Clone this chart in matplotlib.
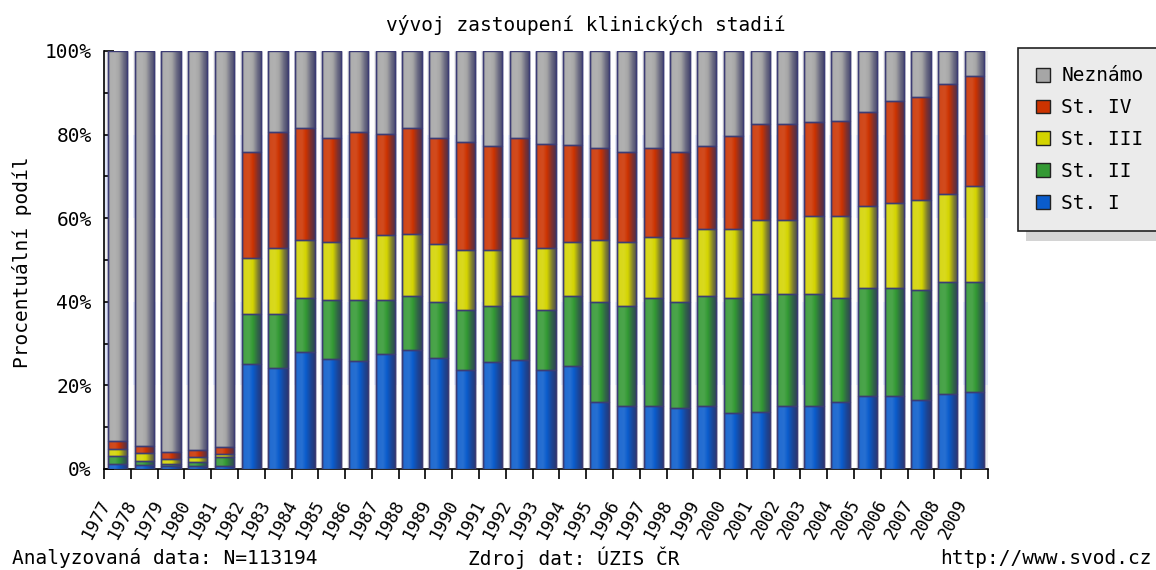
import numpy as np
import matplotlib
matplotlib.use("Agg")
import matplotlib.pyplot as plt
from matplotlib.colors import LinearSegmentedColormap, to_rgb
from matplotlib.patches import Rectangle, Patch
from matplotlib.transforms import ScaledTranslation

plt.rcParams['font.family'] = ['DejaVu Sans Mono']

years = [str(y) for y in range(1977, 2010)]

st1 = [1.2, 1.0, 0.7, 0.7, 0.7, 25.2, 24.2, 28.0, 26.2, 25.8, 27.5, 28.4, 26.6, 23.8, 25.6, 26.0, 23.8,
       24.6, 16.1, 15.1, 15.1, 14.7, 15.1, 13.3, 13.7, 15.1, 15.1, 16.1, 17.5, 17.5, 16.5, 18.0, 18.5]
st2 = [1.9, 0.8, 0.6, 0.9, 2.1, 11.9, 12.9, 13.0, 14.3, 14.7, 13.0, 13.0, 13.3, 14.3, 13.4, 15.4, 14.3,
       16.7, 23.8, 23.9, 25.8, 25.2, 26.3, 27.7, 28.2, 26.8, 26.8, 24.9, 25.8, 25.8, 26.4, 26.7, 26.2]
st3 = [1.8, 2.1, 1.2, 1.3, 0.8, 13.3, 15.7, 13.8, 13.7, 14.7, 15.6, 14.8, 13.9, 14.3, 13.4, 13.8, 14.7,
       12.9, 14.9, 15.2, 14.7, 15.3, 16.1, 16.5, 17.6, 17.6, 18.6, 19.5, 19.6, 20.4, 21.4, 21.0, 23.0]
st4 = [1.8, 1.6, 1.6, 1.6, 1.7, 25.4, 27.8, 26.7, 25.0, 25.4, 24.1, 25.3, 25.3, 25.8, 24.8, 23.9, 25.0,
       23.4, 22.0, 21.6, 21.2, 20.6, 19.7, 22.1, 23.0, 23.0, 22.4, 22.8, 22.4, 24.4, 24.7, 26.4, 26.3]
neznamo = [93.3, 94.5, 95.9, 95.5, 94.7, 24.2, 19.4, 18.5, 20.8, 19.4, 19.8, 18.5, 20.9, 21.8, 22.8, 20.9, 22.2,
           22.4, 23.2, 24.2, 23.2, 24.2, 22.8, 20.4, 17.5, 17.5, 17.1, 16.7, 14.7, 11.9, 11.0, 7.9, 6.0]

series_names = ['St. I', 'St. II', 'St. III', 'St. IV', 'Neznámo']
series_vals = [st1, st2, st3, st4, neznamo]
series_cols = ['#0a5ccc', '#339933', '#d4d400', '#cc3300', '#a6a6a6']
edge_col = '#3c3c74'
navy = np.array(to_rgb('#2e2e5e'))
white = np.array([1.0, 1.0, 1.0])

W, H = 1156, 570
FS = 14
fig = plt.figure(figsize=(W / 100, H / 100), dpi=100)
ax = fig.add_axes([104 / W, 101 / H, 884 / W, 418 / H])

# background bands
band_cols = ['#efefef', '#dde3f6']
for i, lo in enumerate(range(0, 100, 20)):
    ax.axhspan(lo, lo + 20, color=band_cols[i % 2], zorder=0, lw=0)

x = np.arange(len(years))
bottom = np.zeros(len(years))
grad = np.linspace(0, 1, 64).reshape(1, -1)
handles = []
for name, vals, col in zip(series_names, series_vals, series_cols):
    vals = np.array(vals)
    c = np.array(to_rgb(col))
    cmap = LinearSegmentedColormap.from_list(
        name, [(0.0, c * 0.45 + navy * 0.55), (0.1, c * 0.9 + white * 0.1),
               (0.35, c * 0.88 + white * 0.12), (0.55, c), (0.8, c * 0.5 + navy * 0.5),
               (1.0, c * 0.2 + navy * 0.8)])
    bars = ax.bar(x, vals, bottom=bottom, width=0.72, color=col, edgecolor=edge_col,
                  lw=1.0, zorder=3, label=name)
    for p in bars:
        x0, y0 = p.get_x(), p.get_y()
        im = ax.imshow(grad, cmap=cmap, extent=(x0, x0 + p.get_width(), y0, y0 + p.get_height()),
                       aspect='auto', zorder=3.5, interpolation='bilinear')
        im.set_clip_path(p)
        ax.add_patch(Rectangle((x0, y0), p.get_width(), p.get_height(), fill=False,
                               edgecolor=edge_col, lw=1.0, zorder=4))
    handles.append(Patch(facecolor=col, edgecolor='#222222', lw=1.0, label=name))
    bottom = bottom + vals

ax.set_xlim(-0.5, len(years) - 0.5)
ax.set_ylim(0, 100)
ax.set_aspect('auto')

# vertical white stripes between bars
for e in np.arange(-0.5, len(years), 1.0)[1:-1]:
    ax.axvline(e, color='white', lw=3, zorder=1)

for s in ['top', 'right']:
    ax.spines[s].set_visible(False)
ax.spines['left'].set_linewidth(1.2)
ax.spines['bottom'].set_linewidth(1.2)

ax.set_yticks(np.arange(0, 101, 20))
ax.set_yticklabels([f'{v}%' for v in range(0, 101, 20)])
ax.set_yticks(np.arange(10, 100, 20), minor=True)
ax.tick_params(axis='y', which='major', direction='in', length=7.5, width=1.2, pad=9, labelsize=FS)
ax.tick_params(axis='y', which='minor', direction='in', length=4, width=1.2)

ax.set_xticks(x)
ax.set_xticklabels(years, rotation=62, ha='right', va='top', rotation_mode='anchor')
ax.set_xticks(np.arange(-0.5, len(years), 1.0), minor=True)
ax.tick_params(axis='x', which='major', length=0, pad=20, labelsize=12.5)
ax.tick_params(axis='x', which='minor', direction='out', length=7.5, width=1.2)
off = ScaledTranslation(-14 / 72, 0, fig.dpi_scale_trans)
for lab in ax.get_xticklabels():
    lab.set_transform(lab.get_transform() + off)

fig.text(586 / W, 1 - 25 / H, 'vývoj zastoupení klinických stadií', ha='center', va='center', fontsize=FS)
fig.text(22 / W, 1 - 262 / H, 'Procentuální podíl', rotation=90, ha='center', va='center', fontsize=FS)
fig.text(12 / W, 1 - 558 / H, 'Analyzovaná data: N=113194', ha='left', va='center', fontsize=FS)
fig.text(468 / W, 1 - 558 / H, 'Zdroj dat: ÚZIS ČR', ha='left', va='center', fontsize=FS)
fig.text(1152 / W, 1 - 558 / H, 'http://www.svod.cz', ha='right', va='center', fontsize=FS)

# legend with shadow
fig.patches.append(Rectangle((1026 / W, 1 - 241 / H), 130 / W, 185 / H, transform=fig.transFigure,
                             facecolor='#d4d4d4', edgecolor='none', zorder=1))
leg = fig.legend(handles[::-1], series_names[::-1], loc='upper left',
                 bbox_to_anchor=(1018 / W, 1 - 48 / H), borderaxespad=0, fontsize=FS,
                 frameon=True, fancybox=False, facecolor='#ebebeb', edgecolor='#222222',
                 framealpha=1, handlelength=0.72, handleheight=0.72, handletextpad=0.55,
                 labelspacing=0.66, borderpad=0.95)
leg.get_frame().set_linewidth(1.2)

fig.savefig('out.png', dpi=100)
